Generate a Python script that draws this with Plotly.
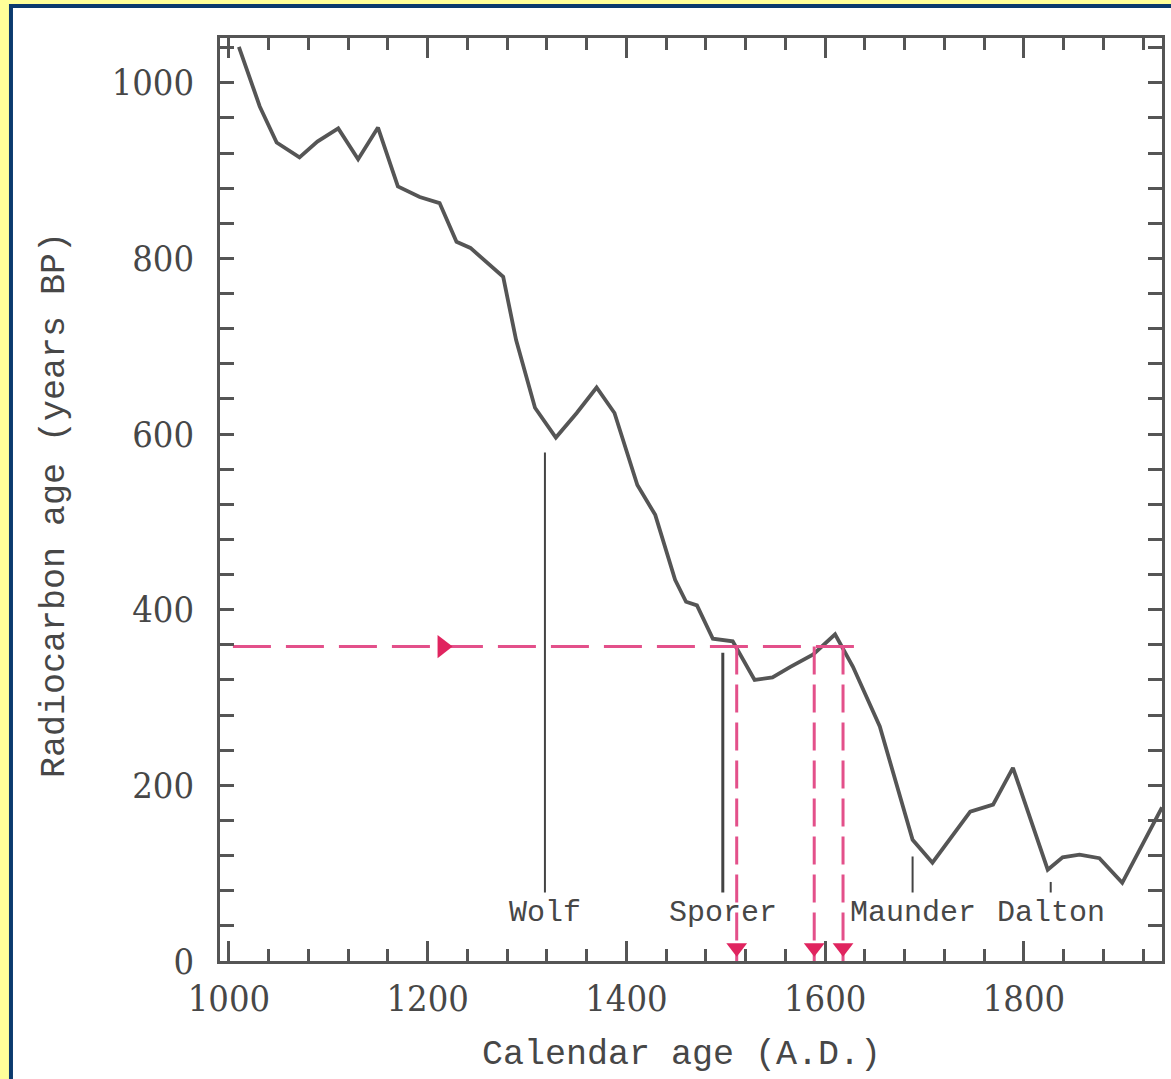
import plotly.graph_objects as go

# ---- data ----
cal_year = [1010, 1031, 1048, 1071, 1089, 1110, 1130, 1150, 1170, 1192, 1212, 1229,
            1243, 1260, 1276, 1289, 1308, 1329, 1350, 1370, 1388, 1411, 1429, 1449,
            1460, 1471, 1487, 1507, 1529, 1547, 1565, 1588, 1610, 1628, 1655, 1688,
            1708, 1746, 1769, 1789, 1824, 1839, 1856, 1876, 1899, 1939]
c14_age = [1041, 973, 932, 915, 933, 948, 913, 949, 882, 870, 863, 819,
           812, 795, 779, 707, 630, 596, 624, 653, 624, 542, 508, 434,
           409, 405, 367, 364, 320, 323, 335, 349, 372, 335, 267, 138,
           112, 170, 178, 220, 104, 118, 121, 117, 89, 175]

minima_names = ["Wolf", "Sporer", "Maunder", "Dalton"]
minima_year = [1318, 1497, 1688, 1827]
minima_top = [579, 351, 119, 90]
minima_bottom = 78
label_y = 55

measured_age = 358
dashed_start = 1004
dashed_end = 1632
arrow_h_x = 1215
intercepts = [1511, 1589, 1618]

x_ticks = [1000, 1200, 1400, 1600, 1800]
y_ticks = [0, 200, 400, 600, 800, 1000]

NUM_FONT = "DejaVu Serif Condensed, DejaVu Serif, serif"
TXT_FONT = "Liberation Mono, Courier New, monospace"
INK = "#474747"
PINK = "#e3508a"
PINK_DARK = "#e0245f"

fig = go.Figure()

# calibration curve
fig.add_trace(go.Scatter(x=cal_year, y=c14_age, mode="lines",
                         line=dict(color="#555555", width=3.8),
                         hoverinfo="skip", showlegend=False))

# solar minima lines
for name, yr, top in zip(minima_names, minima_year, minima_top):
    fig.add_trace(go.Scatter(x=[yr, yr], y=[minima_bottom, top], mode="lines",
                             line=dict(color="#444444", width=2 if name != "Sporer" else 3),
                             hoverinfo="skip", showlegend=False))
    fig.add_annotation(x=yr, y=label_y, text=name, showarrow=False,
                       font=dict(family=TXT_FONT, size=30, color=INK))

# horizontal dashed line at measured age
fig.add_trace(go.Scatter(x=[dashed_start, dashed_end], y=[measured_age, measured_age],
                         mode="lines", line=dict(color=PINK, width=3, dash="38px,15px"),
                         hoverinfo="skip", showlegend=False))
fig.add_trace(go.Scatter(x=[arrow_h_x], y=[measured_age], mode="markers",
                         marker=dict(symbol="triangle-right", size=20, color=PINK_DARK),
                         hoverinfo="skip", showlegend=False))

# vertical dashed lines down to calendar intercepts
for yr in intercepts:
    fig.add_trace(go.Scatter(x=[yr, yr], y=[measured_age, 0], mode="lines",
                             line=dict(color=PINK, width=3, dash="28px,10px"),
                             hoverinfo="skip", showlegend=False))
fig.add_trace(go.Scatter(x=intercepts, y=[15] * len(intercepts), mode="markers",
                         marker=dict(symbol="triangle-down", size=18, color=PINK_DARK),
                         hoverinfo="skip", showlegend=False))

axis_common = dict(
    showgrid=False, zeroline=False, showline=True, linecolor="#555555", linewidth=2.5,
    mirror="ticks", ticks="inside", tickcolor="#555555", tickwidth=2.5,
    tickfont=dict(family=NUM_FONT, size=36, color=INK),
)

fig.update_xaxes(**axis_common, range=[991, 1939], tickvals=x_ticks, ticklen=20,
                 ticklabelstandoff=4,
                 minor=dict(dtick=40, tick0=1000, ticks="inside", ticklen=12,
                            tickwidth=2.5, tickcolor="#555555"))
fig.update_yaxes(**axis_common, range=[0, 1051], tickvals=y_ticks, ticklen=14,
                 minor=dict(dtick=40, tick0=0, ticks="inside", ticklen=14,
                            tickwidth=2.5, tickcolor="#555555"),
                 ticklabelstandoff=16)

# axis titles
fig.add_annotation(xref="paper", yref="paper", x=0.4904, y=-0.1018,
                   text="Calendar age (A.D.)", showarrow=False,
                   xanchor="center", yanchor="middle",
                   font=dict(family=TXT_FONT, size=35, color=INK))
fig.add_annotation(xref="paper", yref="paper", x=-0.1752, y=0.494,
                   text="Radiocarbon age (years BP)", showarrow=False, textangle=-90,
                   xanchor="center", yanchor="middle",
                   font=dict(family=TXT_FONT, size=35, color=INK))

# scanned page frame
fig.add_shape(type="rect", xref="paper", yref="paper",
              x0=-0.2219, x1=1.02, y0=-0.14, y1=1.0347,
              line=dict(color="#0b3a6e", width=4), fillcolor="white", layer="below")

fig.update_layout(
    width=1171, height=1079,
    margin=dict(l=220, r=9, t=38, b=118, autoexpand=False),
    paper_bgcolor="#ffff99", plot_bgcolor="white",
    showlegend=False,
)

fig.write_html("out.html")
